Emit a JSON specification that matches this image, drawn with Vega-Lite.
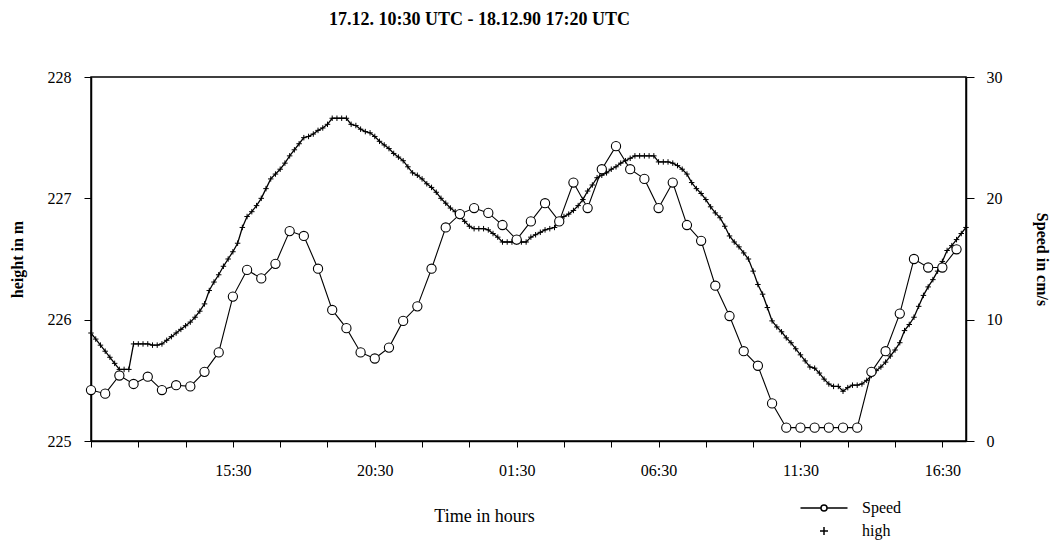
{
  "$schema": "https://vega.github.io/schema/vega-lite/v6.json",
  "width": 875,
  "height": 364,
  "autosize": "none",
  "padding": {"left": 91, "top": 77, "right": 88, "bottom": 101},
  "background": "white",
  "config": {
    "font": "Liberation Serif",
    "view": {"stroke": "black", "strokeWidth": 1.5},
    "axis": {
      "grid": false,
      "domainColor": "black",
      "domainWidth": 1.5,
      "tickColor": "black",
      "tickWidth": 1,
      "labelColor": "black",
      "titleColor": "black",
      "labelFont": "Liberation Serif",
      "titleFont": "Liberation Serif",
      "labelFontSize": 16,
      "titleFontSize": 16
    }
  },
  "title": {
    "text": "17.12. 10:30 UTC - 18.12.90 17:20 UTC",
    "anchor": "middle",
    "frame": "group",
    "dx": -49,
    "offset": 31,
    "baseline": "middle",
    "font": "Liberation Serif",
    "fontSize": 18,
    "fontWeight": "bold",
    "color": "black"
  },
  "layer": [
    {
      "data": {
        "format": {"parse": {"t": "utc:'%Y-%m-%d %H:%M'"}},
        "values": [
          {"t": "1990-12-17 10:30", "h": 225.89}, {"t": "1990-12-17 10:40", "h": 225.84}, {"t": "1990-12-17 10:50", "h": 225.79},
          {"t": "1990-12-17 11:00", "h": 225.74}, {"t": "1990-12-17 11:10", "h": 225.69}, {"t": "1990-12-17 11:20", "h": 225.64},
          {"t": "1990-12-17 11:30", "h": 225.59}, {"t": "1990-12-17 11:40", "h": 225.59}, {"t": "1990-12-17 11:50", "h": 225.59},
          {"t": "1990-12-17 12:00", "h": 225.80}, {"t": "1990-12-17 12:10", "h": 225.80}, {"t": "1990-12-17 12:20", "h": 225.80},
          {"t": "1990-12-17 12:30", "h": 225.80}, {"t": "1990-12-17 12:40", "h": 225.79}, {"t": "1990-12-17 12:50", "h": 225.79},
          {"t": "1990-12-17 13:00", "h": 225.80}, {"t": "1990-12-17 13:10", "h": 225.83}, {"t": "1990-12-17 13:20", "h": 225.86},
          {"t": "1990-12-17 13:30", "h": 225.89}, {"t": "1990-12-17 13:40", "h": 225.92}, {"t": "1990-12-17 13:50", "h": 225.95},
          {"t": "1990-12-17 14:00", "h": 225.98}, {"t": "1990-12-17 14:10", "h": 226.02}, {"t": "1990-12-17 14:20", "h": 226.07},
          {"t": "1990-12-17 14:30", "h": 226.13}, {"t": "1990-12-17 14:40", "h": 226.24}, {"t": "1990-12-17 14:50", "h": 226.31},
          {"t": "1990-12-17 15:00", "h": 226.37}, {"t": "1990-12-17 15:10", "h": 226.44}, {"t": "1990-12-17 15:20", "h": 226.50},
          {"t": "1990-12-17 15:30", "h": 226.56}, {"t": "1990-12-17 15:40", "h": 226.63}, {"t": "1990-12-17 15:50", "h": 226.76},
          {"t": "1990-12-17 16:00", "h": 226.85}, {"t": "1990-12-17 16:10", "h": 226.89}, {"t": "1990-12-17 16:20", "h": 226.94},
          {"t": "1990-12-17 16:30", "h": 227.00}, {"t": "1990-12-17 16:40", "h": 227.08}, {"t": "1990-12-17 16:50", "h": 227.16},
          {"t": "1990-12-17 17:00", "h": 227.20}, {"t": "1990-12-17 17:10", "h": 227.24}, {"t": "1990-12-17 17:20", "h": 227.29},
          {"t": "1990-12-17 17:30", "h": 227.35}, {"t": "1990-12-17 17:40", "h": 227.40}, {"t": "1990-12-17 17:50", "h": 227.45},
          {"t": "1990-12-17 18:00", "h": 227.50}, {"t": "1990-12-17 18:10", "h": 227.51}, {"t": "1990-12-17 18:20", "h": 227.53},
          {"t": "1990-12-17 18:30", "h": 227.56}, {"t": "1990-12-17 18:40", "h": 227.58}, {"t": "1990-12-17 18:50", "h": 227.61},
          {"t": "1990-12-17 19:00", "h": 227.66}, {"t": "1990-12-17 19:10", "h": 227.66}, {"t": "1990-12-17 19:20", "h": 227.66},
          {"t": "1990-12-17 19:30", "h": 227.66}, {"t": "1990-12-17 19:40", "h": 227.61}, {"t": "1990-12-17 19:50", "h": 227.60},
          {"t": "1990-12-17 20:00", "h": 227.57}, {"t": "1990-12-17 20:10", "h": 227.55}, {"t": "1990-12-17 20:20", "h": 227.54},
          {"t": "1990-12-17 20:30", "h": 227.51}, {"t": "1990-12-17 20:40", "h": 227.47}, {"t": "1990-12-17 20:50", "h": 227.44},
          {"t": "1990-12-17 21:00", "h": 227.41}, {"t": "1990-12-17 21:10", "h": 227.37}, {"t": "1990-12-17 21:20", "h": 227.34},
          {"t": "1990-12-17 21:30", "h": 227.31}, {"t": "1990-12-17 21:40", "h": 227.26}, {"t": "1990-12-17 21:50", "h": 227.21},
          {"t": "1990-12-17 22:00", "h": 227.19}, {"t": "1990-12-17 22:10", "h": 227.16}, {"t": "1990-12-17 22:20", "h": 227.12},
          {"t": "1990-12-17 22:30", "h": 227.09}, {"t": "1990-12-17 22:40", "h": 227.05}, {"t": "1990-12-17 22:50", "h": 227.00},
          {"t": "1990-12-17 23:00", "h": 226.96}, {"t": "1990-12-17 23:10", "h": 226.92}, {"t": "1990-12-17 23:20", "h": 226.89},
          {"t": "1990-12-17 23:30", "h": 226.85}, {"t": "1990-12-17 23:40", "h": 226.81}, {"t": "1990-12-17 23:50", "h": 226.77},
          {"t": "1990-12-18 00:00", "h": 226.75}, {"t": "1990-12-18 00:10", "h": 226.75}, {"t": "1990-12-18 00:20", "h": 226.75},
          {"t": "1990-12-18 00:30", "h": 226.74}, {"t": "1990-12-18 00:40", "h": 226.71}, {"t": "1990-12-18 00:50", "h": 226.68},
          {"t": "1990-12-18 01:00", "h": 226.64}, {"t": "1990-12-18 01:10", "h": 226.64}, {"t": "1990-12-18 01:20", "h": 226.64},
          {"t": "1990-12-18 01:30", "h": 226.64}, {"t": "1990-12-18 01:40", "h": 226.64}, {"t": "1990-12-18 01:50", "h": 226.64},
          {"t": "1990-12-18 02:00", "h": 226.68}, {"t": "1990-12-18 02:10", "h": 226.70}, {"t": "1990-12-18 02:20", "h": 226.72},
          {"t": "1990-12-18 02:30", "h": 226.74}, {"t": "1990-12-18 02:40", "h": 226.75}, {"t": "1990-12-18 02:50", "h": 226.76},
          {"t": "1990-12-18 03:00", "h": 226.82}, {"t": "1990-12-18 03:10", "h": 226.85}, {"t": "1990-12-18 03:20", "h": 226.87},
          {"t": "1990-12-18 03:30", "h": 226.90}, {"t": "1990-12-18 03:40", "h": 226.94}, {"t": "1990-12-18 03:50", "h": 226.99},
          {"t": "1990-12-18 04:00", "h": 227.06}, {"t": "1990-12-18 04:10", "h": 227.11}, {"t": "1990-12-18 04:20", "h": 227.17},
          {"t": "1990-12-18 04:30", "h": 227.19}, {"t": "1990-12-18 04:40", "h": 227.21}, {"t": "1990-12-18 04:50", "h": 227.24},
          {"t": "1990-12-18 05:00", "h": 227.26}, {"t": "1990-12-18 05:10", "h": 227.29}, {"t": "1990-12-18 05:20", "h": 227.31},
          {"t": "1990-12-18 05:30", "h": 227.33}, {"t": "1990-12-18 05:40", "h": 227.35}, {"t": "1990-12-18 05:50", "h": 227.35},
          {"t": "1990-12-18 06:00", "h": 227.35}, {"t": "1990-12-18 06:10", "h": 227.35}, {"t": "1990-12-18 06:20", "h": 227.35},
          {"t": "1990-12-18 06:30", "h": 227.30}, {"t": "1990-12-18 06:40", "h": 227.30}, {"t": "1990-12-18 06:50", "h": 227.30},
          {"t": "1990-12-18 07:00", "h": 227.29}, {"t": "1990-12-18 07:10", "h": 227.27}, {"t": "1990-12-18 07:20", "h": 227.24},
          {"t": "1990-12-18 07:30", "h": 227.20}, {"t": "1990-12-18 07:40", "h": 227.13}, {"t": "1990-12-18 07:50", "h": 227.08},
          {"t": "1990-12-18 08:00", "h": 227.04}, {"t": "1990-12-18 08:10", "h": 226.99}, {"t": "1990-12-18 08:20", "h": 226.93},
          {"t": "1990-12-18 08:30", "h": 226.88}, {"t": "1990-12-18 08:40", "h": 226.84}, {"t": "1990-12-18 08:50", "h": 226.77},
          {"t": "1990-12-18 09:00", "h": 226.69}, {"t": "1990-12-18 09:10", "h": 226.64}, {"t": "1990-12-18 09:20", "h": 226.60},
          {"t": "1990-12-18 09:30", "h": 226.55}, {"t": "1990-12-18 09:40", "h": 226.50}, {"t": "1990-12-18 09:50", "h": 226.40},
          {"t": "1990-12-18 10:00", "h": 226.29}, {"t": "1990-12-18 10:10", "h": 226.21}, {"t": "1990-12-18 10:20", "h": 226.10},
          {"t": "1990-12-18 10:30", "h": 225.99}, {"t": "1990-12-18 10:40", "h": 225.94}, {"t": "1990-12-18 10:50", "h": 225.90},
          {"t": "1990-12-18 11:00", "h": 225.85}, {"t": "1990-12-18 11:10", "h": 225.81}, {"t": "1990-12-18 11:20", "h": 225.76},
          {"t": "1990-12-18 11:30", "h": 225.71}, {"t": "1990-12-18 11:40", "h": 225.66}, {"t": "1990-12-18 11:50", "h": 225.61},
          {"t": "1990-12-18 12:00", "h": 225.60}, {"t": "1990-12-18 12:10", "h": 225.56}, {"t": "1990-12-18 12:20", "h": 225.51},
          {"t": "1990-12-18 12:30", "h": 225.47}, {"t": "1990-12-18 12:40", "h": 225.45}, {"t": "1990-12-18 12:50", "h": 225.45},
          {"t": "1990-12-18 13:00", "h": 225.41}, {"t": "1990-12-18 13:10", "h": 225.44}, {"t": "1990-12-18 13:20", "h": 225.46},
          {"t": "1990-12-18 13:30", "h": 225.46}, {"t": "1990-12-18 13:40", "h": 225.47}, {"t": "1990-12-18 13:50", "h": 225.50},
          {"t": "1990-12-18 14:00", "h": 225.54}, {"t": "1990-12-18 14:10", "h": 225.58}, {"t": "1990-12-18 14:20", "h": 225.61},
          {"t": "1990-12-18 14:30", "h": 225.65}, {"t": "1990-12-18 14:40", "h": 225.70}, {"t": "1990-12-18 14:50", "h": 225.75},
          {"t": "1990-12-18 15:00", "h": 225.81}, {"t": "1990-12-18 15:10", "h": 225.91}, {"t": "1990-12-18 15:20", "h": 225.96},
          {"t": "1990-12-18 15:30", "h": 226.02}, {"t": "1990-12-18 15:40", "h": 226.11}, {"t": "1990-12-18 15:50", "h": 226.20},
          {"t": "1990-12-18 16:00", "h": 226.27}, {"t": "1990-12-18 16:10", "h": 226.33}, {"t": "1990-12-18 16:20", "h": 226.40},
          {"t": "1990-12-18 16:30", "h": 226.48}, {"t": "1990-12-18 16:40", "h": 226.57}, {"t": "1990-12-18 16:50", "h": 226.61},
          {"t": "1990-12-18 17:00", "h": 226.66}, {"t": "1990-12-18 17:10", "h": 226.71}, {"t": "1990-12-18 17:20", "h": 226.76}
        ]
      },
      "encoding": {
        "x": {
          "field": "t",
          "type": "temporal",
          "scale": {"type": "utc", "domain": [661429800000, 661540800000], "nice": false},
          "axis": {
            "title": "Time in hours",
            "titleFontWeight": "normal",
            "titleFontSize": 18,
            "titleAnchor": null,
            "titleX": 393,
            "titleY": 75,
            "titleBaseline": "middle",
            "values": [
              661429800000, 661432800000, 661435800000, 661438800000, 661441800000, 661444800000,
              661447800000, 661450800000, 661453800000, 661456800000, 661459800000, 661462800000,
              661465800000, 661468800000, 661471800000, 661474800000, 661477800000, 661480800000,
              661483800000, 661486800000, 661489800000, 661492800000, 661495800000, 661498800000,
              661501800000, 661504800000, 661507800000, 661510800000, 661513800000, 661516800000,
              661519800000, 661522800000, 661525800000, 661528800000, 661531800000, 661534800000,
              661537800000, 661540800000
            ],
            "labelExpr": "(datum.value - 661429800000) % 18000000 == 0 && datum.value > 661429800000 ? utcFormat(datum.value, '%H:%M') : ''",
            "labelOverlap": false,
            "labelFlush": false,
            "labelFontSize": 16,
            "labelPadding": 15,
            "tickSize": 6
          }
        },
        "y": {
          "field": "h",
          "type": "quantitative",
          "scale": {"domain": [225, 228], "nice": false, "zero": false},
          "axis": {
            "title": "height in m",
            "titleFontWeight": "bold",
            "titleFontSize": 16,
            "titlePadding": 22,
            "values": [225, 226, 227, 228],
            "format": "d",
            "tickSize": 7,
            "labelPadding": 13
          }
        }
      },
      "layer": [
        {"mark": {"type": "line", "color": "black", "strokeWidth": 1.3, "interpolate": "linear"}},
        {
          "mark": {"type": "point", "filled": false, "stroke": "black", "strokeWidth": 1, "size": 47, "opacity": 1},
          "encoding": {
            "shape": {
              "datum": "high",
              "type": "nominal",
              "scale": {
                "domain": ["Speed", "high"],
                "range": [
                  "M-4.7,0H-0.6M0.6,0H4.7M0.6,0A0.6,0.6,0,1,1,-0.6,0A0.6,0.6,0,1,1,0.6,0",
                  "M-0.8,0H0.8M0,-0.8V0.8"
                ]
              },
              "legend": {
                "orient": "none",
                "legendX": 725,
                "legendY": 423,
                "title": null,
                "padding": 0,
                "symbolSize": 100,
                "symbolStrokeColor": "black",
                "symbolFillColor": "transparent",
                "symbolStrokeWidth": 1.5,
                "symbolOpacity": 1,
                "labelOffset": 30,
                "rowPadding": 7,
                "labelFont": "Liberation Serif",
                "labelFontSize": 16,
                "labelColor": "black"
              }
            }
          }
        }
      ]
    },
    {
      "data": {
        "format": {"parse": {"t": "utc:'%Y-%m-%d %H:%M'"}},
        "values": [
          {"t": "1990-12-17 10:30", "v": 4.2}, {"t": "1990-12-17 11:00", "v": 3.9}, {"t": "1990-12-17 11:30", "v": 5.4},
          {"t": "1990-12-17 12:00", "v": 4.7}, {"t": "1990-12-17 12:30", "v": 5.3}, {"t": "1990-12-17 13:00", "v": 4.2},
          {"t": "1990-12-17 13:30", "v": 4.6}, {"t": "1990-12-17 14:00", "v": 4.5}, {"t": "1990-12-17 14:30", "v": 5.7},
          {"t": "1990-12-17 15:00", "v": 7.3}, {"t": "1990-12-17 15:30", "v": 11.9}, {"t": "1990-12-17 16:00", "v": 14.1},
          {"t": "1990-12-17 16:30", "v": 13.4}, {"t": "1990-12-17 17:00", "v": 14.6}, {"t": "1990-12-17 17:30", "v": 17.3},
          {"t": "1990-12-17 18:00", "v": 16.9}, {"t": "1990-12-17 18:30", "v": 14.2}, {"t": "1990-12-17 19:00", "v": 10.8},
          {"t": "1990-12-17 19:30", "v": 9.3}, {"t": "1990-12-17 20:00", "v": 7.3}, {"t": "1990-12-17 20:30", "v": 6.8},
          {"t": "1990-12-17 21:00", "v": 7.7}, {"t": "1990-12-17 21:30", "v": 9.9}, {"t": "1990-12-17 22:00", "v": 11.1},
          {"t": "1990-12-17 22:30", "v": 14.2}, {"t": "1990-12-17 23:00", "v": 17.6}, {"t": "1990-12-17 23:30", "v": 18.7},
          {"t": "1990-12-18 00:00", "v": 19.2}, {"t": "1990-12-18 00:30", "v": 18.8}, {"t": "1990-12-18 01:00", "v": 17.8},
          {"t": "1990-12-18 01:30", "v": 16.6}, {"t": "1990-12-18 02:00", "v": 18.1}, {"t": "1990-12-18 02:30", "v": 19.6},
          {"t": "1990-12-18 03:00", "v": 18.1}, {"t": "1990-12-18 03:30", "v": 21.3}, {"t": "1990-12-18 04:00", "v": 19.2},
          {"t": "1990-12-18 04:30", "v": 22.4}, {"t": "1990-12-18 05:00", "v": 24.3}, {"t": "1990-12-18 05:30", "v": 22.4},
          {"t": "1990-12-18 06:00", "v": 21.6}, {"t": "1990-12-18 06:30", "v": 19.2}, {"t": "1990-12-18 07:00", "v": 21.3},
          {"t": "1990-12-18 07:30", "v": 17.8}, {"t": "1990-12-18 08:00", "v": 16.5}, {"t": "1990-12-18 08:30", "v": 12.8},
          {"t": "1990-12-18 09:00", "v": 10.3}, {"t": "1990-12-18 09:30", "v": 7.4}, {"t": "1990-12-18 10:00", "v": 6.2},
          {"t": "1990-12-18 10:30", "v": 3.1}, {"t": "1990-12-18 11:00", "v": 1.1}, {"t": "1990-12-18 11:30", "v": 1.1},
          {"t": "1990-12-18 12:00", "v": 1.1}, {"t": "1990-12-18 12:30", "v": 1.1}, {"t": "1990-12-18 13:00", "v": 1.1},
          {"t": "1990-12-18 13:30", "v": 1.1}, {"t": "1990-12-18 14:00", "v": 5.7}, {"t": "1990-12-18 14:30", "v": 7.4},
          {"t": "1990-12-18 15:00", "v": 10.5}, {"t": "1990-12-18 15:30", "v": 15.0}, {"t": "1990-12-18 16:00", "v": 14.3},
          {"t": "1990-12-18 16:30", "v": 14.3}, {"t": "1990-12-18 17:00", "v": 15.8}
        ]
      },
      "encoding": {
        "x": {"field": "t", "type": "temporal"},
        "y": {
          "field": "v",
          "type": "quantitative",
          "scale": {"domain": [0, 30], "nice": false},
          "axis": {
            "orient": "right",
            "title": "Speed in cm/s",
            "titleFontWeight": "bold",
            "titleFontSize": 16,
            "titlePadding": 31,
            "values": [0, 10, 20, 30],
            "format": "d",
            "tickSize": 8,
            "labelPadding": 12
          }
        }
      },
      "layer": [
        {"mark": {"type": "line", "color": "black", "strokeWidth": 1.1}},
        {"mark": {"type": "point", "shape": "circle", "filled": true, "fill": "white", "stroke": "black", "strokeWidth": 1.1, "size": 85, "opacity": 1}}
      ]
    }
  ],
  "resolve": {"scale": {"y": "independent"}, "axis": {"y": "independent"}}
}
